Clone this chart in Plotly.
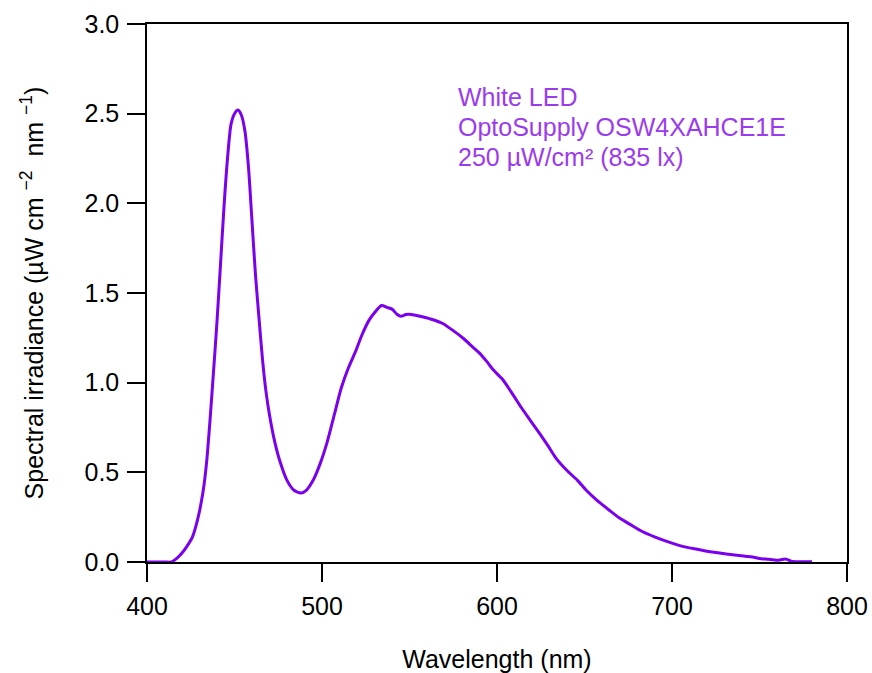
import plotly.graph_objects as go

wavelength = [400, 405, 410, 414, 417, 420, 423, 426, 429, 432, 434, 436, 438, 440, 442, 444, 446, 448, 450, 452,
              454, 456, 458, 460, 462, 464, 466, 468, 470, 473, 476, 480, 484, 488, 491, 495, 499, 503, 507, 511,
              515, 519, 523, 527, 530, 534, 537, 540, 543, 545, 548, 551, 556, 562, 569, 575, 581, 586, 590, 594,
              598, 603, 608, 614, 619, 623, 629, 634, 640, 646, 651, 657, 664, 670, 676, 683, 690, 697, 705, 712,
              720, 731, 741, 746, 750, 755, 760, 765, 768, 772, 776, 780]
irradiance = [0, 0, 0, 0, 0.02, 0.05, 0.09, 0.14, 0.24, 0.39, 0.55, 0.79, 1.06, 1.34, 1.66, 1.98, 2.25, 2.44, 2.50, 2.52,
              2.49, 2.40, 2.20, 1.90, 1.60, 1.36, 1.13, 0.95, 0.82, 0.67, 0.56, 0.455, 0.40, 0.385, 0.40, 0.457, 0.55, 0.67, 0.82, 0.97,
              1.08, 1.17, 1.27, 1.35, 1.39, 1.43, 1.42, 1.41, 1.38, 1.37, 1.38, 1.38, 1.37, 1.355, 1.33, 1.29, 1.245, 1.20, 1.165, 1.12,
              1.07, 1.02, 0.95, 0.86, 0.79, 0.735, 0.65, 0.575, 0.51, 0.455, 0.40, 0.345, 0.29, 0.245, 0.21, 0.17, 0.14, 0.115, 0.09, 0.075,
              0.06, 0.045, 0.033, 0.028, 0.02, 0.015, 0.01, 0.016, 0.005, 0.002, 0.002, 0.002]

x_ticks = [400, 500, 600, 700, 800]
y_ticks = [0.0, 0.5, 1.0, 1.5, 2.0, 2.5, 3.0]
label_lines = ["White LED", "OptoSupply OSW4XAHCE1E", "250 µW/cm² (835 lx)"]
label_y = [0.864, 0.808, 0.752]

FONT = "Liberation Sans, Arial, sans-serif"
LINE_COLOR = "#7A00EE"
TEXT_COLOR = "#9B3BEF"

fig = go.Figure()
fig.add_trace(go.Scatter(x=wavelength, y=irradiance, mode="lines", line_shape="spline",
                         line=dict(color=LINE_COLOR, width=3, smoothing=0.7), showlegend=False))

axis_common = dict(showline=True, linecolor="black", linewidth=1.5, mirror=True,
                   ticks="outside", ticklen=18, tickwidth=1.5, tickcolor="black",
                   showgrid=False, zeroline=False, automargin=False,
                   tickfont=dict(family=FONT, size=25, color="black"))

fig.update_xaxes(range=[400, 800], tickvals=x_ticks, ticktext=[str(v) for v in x_ticks],
                 ticklabelstandoff=3,
                 title=dict(text="Wavelength (nm)", font=dict(family=FONT, size=25, color="black"), standoff=32),
                 **axis_common)
fig.update_yaxes(range=[0, 3.0], tickvals=y_ticks, ticktext=[f"{v:.1f}" for v in y_ticks],
                 ticklabelstandoff=3,
                 title=dict(text="Spectral irradiance (µW cm <sup>−2</sup>  nm <sup>−1</sup>)",
                            font=dict(family=FONT, size=25, color="black"), standoff=34),
                 **axis_common)

for line, yy in zip(label_lines, label_y):
    fig.add_annotation(xref="paper", yref="paper", x=0.441, y=yy, xanchor="left", yanchor="middle",
                       align="left", showarrow=False, text=line,
                       font=dict(family=FONT, size=25, color=TEXT_COLOR))

fig.update_layout(width=872, height=673, margin=dict(l=147, r=25, t=24, b=111, autoexpand=False),
                  plot_bgcolor="white", paper_bgcolor="white")

fig.write_html("out.html")
